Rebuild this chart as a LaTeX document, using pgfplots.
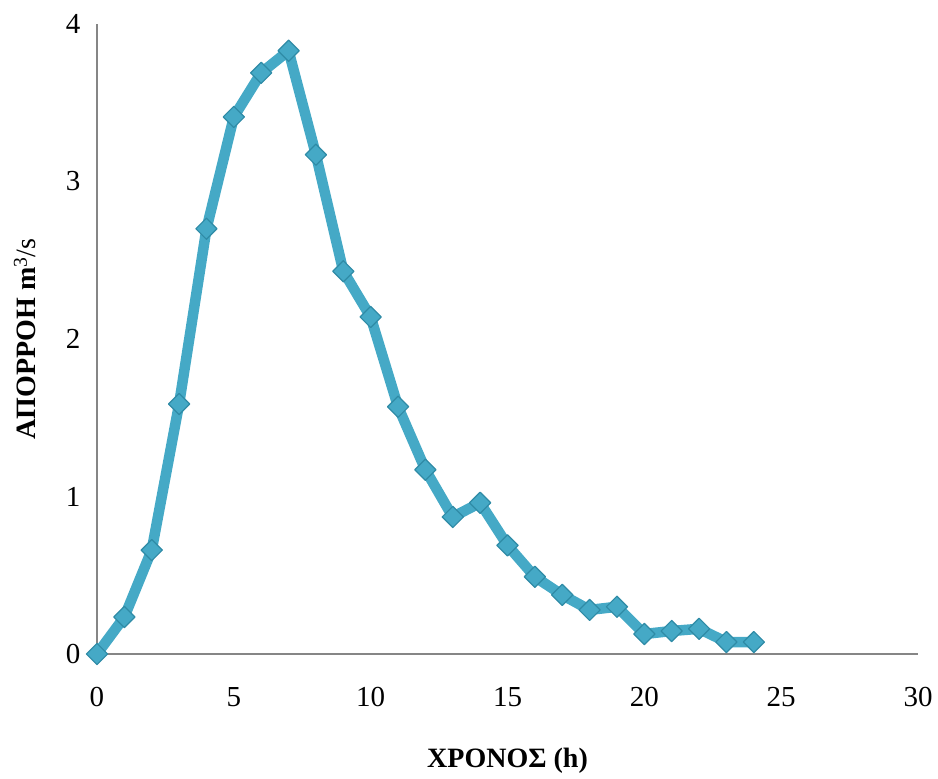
\documentclass[border=0pt]{standalone}
\usepackage{pgfplots}
\pgfplotsset{compat=1.18}
\usepackage{fontspec}
\setmainfont{Liberation Serif}
\definecolor{aqua}{HTML}{45A9C6}
\definecolor{aquadark}{HTML}{2F8BA6}
\definecolor{axgray}{HTML}{868686}
\begin{document}
\begin{tikzpicture}
\begin{axis}[
  scale only axis,
  width=821pt, height=630pt,
  xmin=0, xmax=30, ymin=0, ymax=4,
  xtick={0,5,...,30}, ytick={0,1,2,3,4},
  axis x line*=bottom, axis y line*=left,
  axis line style={-, axgray, line width=1.4pt},
  major tick length=0pt,
  tick style={draw=none},
  /pgf/number format/assume math mode=true,
  tick label style={font=\fontsize{29}{33}\selectfont, text=black},
  xticklabel style={yshift=-30pt},
  yticklabel style={xshift=-13pt},
  xlabel={\textbf{ΧΡΟΝΟΣ (h)}},
  ylabel={\textbf{ΑΠΟΡΡΟΗ m}\textsuperscript{3}/s},
  label style={font=\fontsize{28}{32}\selectfont},
  xlabel style={at={(rel axis cs:0.5,0)}, anchor=base, yshift=-113pt},
  ylabel style={at={(rel axis cs:0,0.5)}, anchor=base, rotate=0, yshift=61pt},
  clip=false,
]
\addplot[color=aqua, line width=10.5pt, line join=round,
  mark=square*, mark size=7.5pt,
  mark options={rotate=45, fill=aqua, draw=aquadark, line width=1.2pt}]
coordinates {
(0,0) (1,0.235) (2,0.66) (3,1.587) (4,2.70) (5,3.41) (6,3.69) (7,3.83)
(8,3.17) (9,2.43) (10,2.14) (11,1.57) (12,1.17) (13,0.87) (14,0.96)
(15,0.69) (16,0.49) (17,0.375) (18,0.28) (19,0.30) (20,0.127) (21,0.146)
(22,0.16) (23,0.076) (24,0.076)
};
\end{axis}
\pgfresetboundingbox
\path ([shift={(-97pt,-124pt)}]current axis.south west) rectangle ([shift={(20pt,24pt)}]current axis.north east);
\end{tikzpicture}
\end{document}
